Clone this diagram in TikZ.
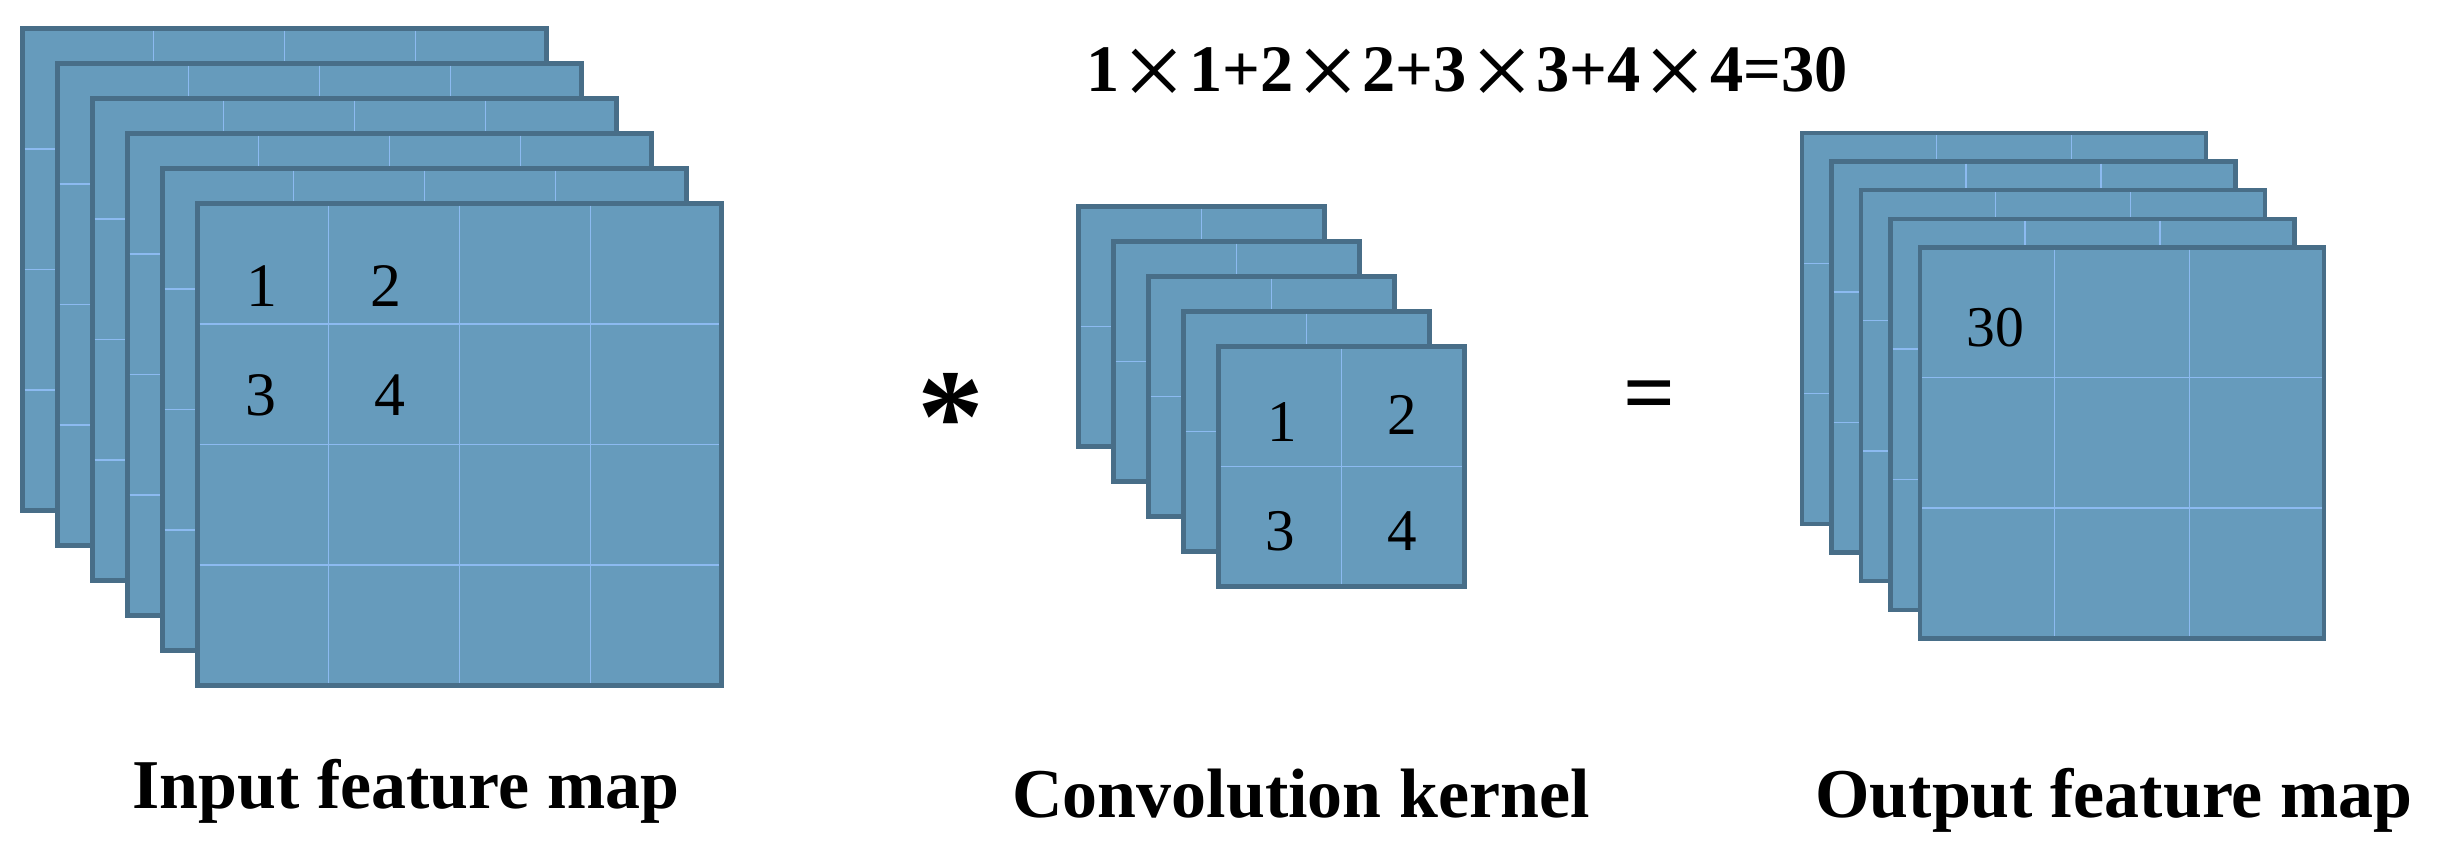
\documentclass[tikz,border=0pt]{standalone}
\usepackage{fontspec}
\setmainfont{Liberation Serif}
\usepackage{tikz}
\usetikzlibrary{calc}
\definecolor{sheetfill}{RGB}{102,155,188}
\definecolor{sheetedge}{RGB}{72,110,136}
\definecolor{gridblue}{RGB}{140,186,240}
\tikzstyle{sheet}=[rectangle, draw=sheetedge, fill=sheetfill, line width=1.2pt, inner sep=0pt, outer sep=0pt]
\tikzstyle{gridline}=[draw=gridblue, line width=0.4pt, shorten <=0.6pt, shorten >=0.6pt]
\tikzstyle{indigit}=[inner sep=0pt, font=\fontsize{17.6}{20}\selectfont]
\tikzstyle{kdigit}=[inner sep=0pt, font=\fontsize{16.8}{20}\selectfont]
\tikzstyle{outdigit}=[inner sep=0pt, font=\fontsize{16.4}{20}\selectfont]
\tikzstyle{caption}=[anchor=base, inner sep=0pt, font=\bfseries\fontsize{19.9}{24}\selectfont]
\newcommand{\timesign}{\kern0.06em\raisebox{-4.5pt}{\mdseries\fontsize{31}{31}\selectfont ×}\kern0.06em}

\begin{document}
\begin{tikzpicture}[x=0.1mm, y=-0.1mm]
	\useasboundingbox (0,0) rectangle (2437,866);
	% input feature map: six sheets, 4x4 grid
	\begin{scope}
		\foreach \k in {0,...,5} {
			\node[sheet, minimum width=52.4mm, minimum height=48.2mm] (in\k) at (284.5+35*\k, 269.5+35*\k) {};
			\foreach \f in {0.25,0.5,0.75} {
				\path[gridline] ($(in\k.north west)!\f!(in\k.north east)$) -- ($(in\k.south west)!\f!(in\k.south east)$);
				\path[gridline] ($(in\k.north west)!\f!(in\k.south west)$) -- ($(in\k.north east)!\f!(in\k.south east)$);
			}
		}
		\node[indigit] (a1) at (262,286) {1};
		\node[indigit] (a2) at (386,286) {2};
		\node[indigit] (a3) at (260.5,395) {3};
		\node[indigit] (a4) at (390,395) {4};
	\end{scope}
	% convolution kernel: five sheets, 2x2 grid
	\begin{scope}
		\foreach \k in {0,...,4} {
			\node[sheet, minimum width=24.6mm, minimum height=24.0mm] (ker\k) at (1201.5+35*\k, 326.5+35*\k) {};
			\path[gridline] (ker\k.north) -- (ker\k.south);
			\path[gridline] (ker\k.west) -- (ker\k.east);
		}
		\node[kdigit] (b1) at (1282,422) {1};
		\node[kdigit] (b2) at (1402,415) {2};
		\node[kdigit] (b3) at (1280,531) {3};
		\node[kdigit] (b4) at (1402,531) {4};
	\end{scope}
	% output feature map: five sheets, 3x3 grid
	\begin{scope}
		\foreach \k in {0,...,4} {
			\node[sheet, minimum width=40.4mm, minimum height=39.1mm] (out\k) at (2004+29.5*\k, 328.5+28.6*\k) {};
			\foreach \f in {0.3333,0.6667} {
				\path[gridline] ($(out\k.north west)!\f!(out\k.north east)$) -- ($(out\k.south west)!\f!(out\k.south east)$);
				\path[gridline] ($(out\k.north west)!\f!(out\k.south west)$) -- ($(out\k.north east)!\f!(out\k.south east)$);
			}
		}
		\node[outdigit] (c1) at (1995,328) {30};
	\end{scope}
	% operators and sum
	\node[anchor=base, inner sep=0pt, font=\bfseries\fontsize{38}{40}\selectfont] (star) at (951,462) {*};
	\node[anchor=base, inner sep=0pt, font=\bfseries\fontsize{26}{30}\selectfont] (equal) at (1650,424) {=};
	\node[anchor=base, inner sep=0pt, font=\bfseries\fontsize{18.9}{22}\selectfont] (sum) at (1467,92) {1\timesign 1+2\timesign 2+3\timesign 3+4\timesign 4=30};
	% captions
	\node[caption] (inlabel) at (406,809) {Input feature map};
	\node[caption] (kerlabel) at (1301,817) {Convolution kernel};
	\node[caption] (outlabel) at (2114,817) {Output feature map};
\end{tikzpicture}
\end{document}
